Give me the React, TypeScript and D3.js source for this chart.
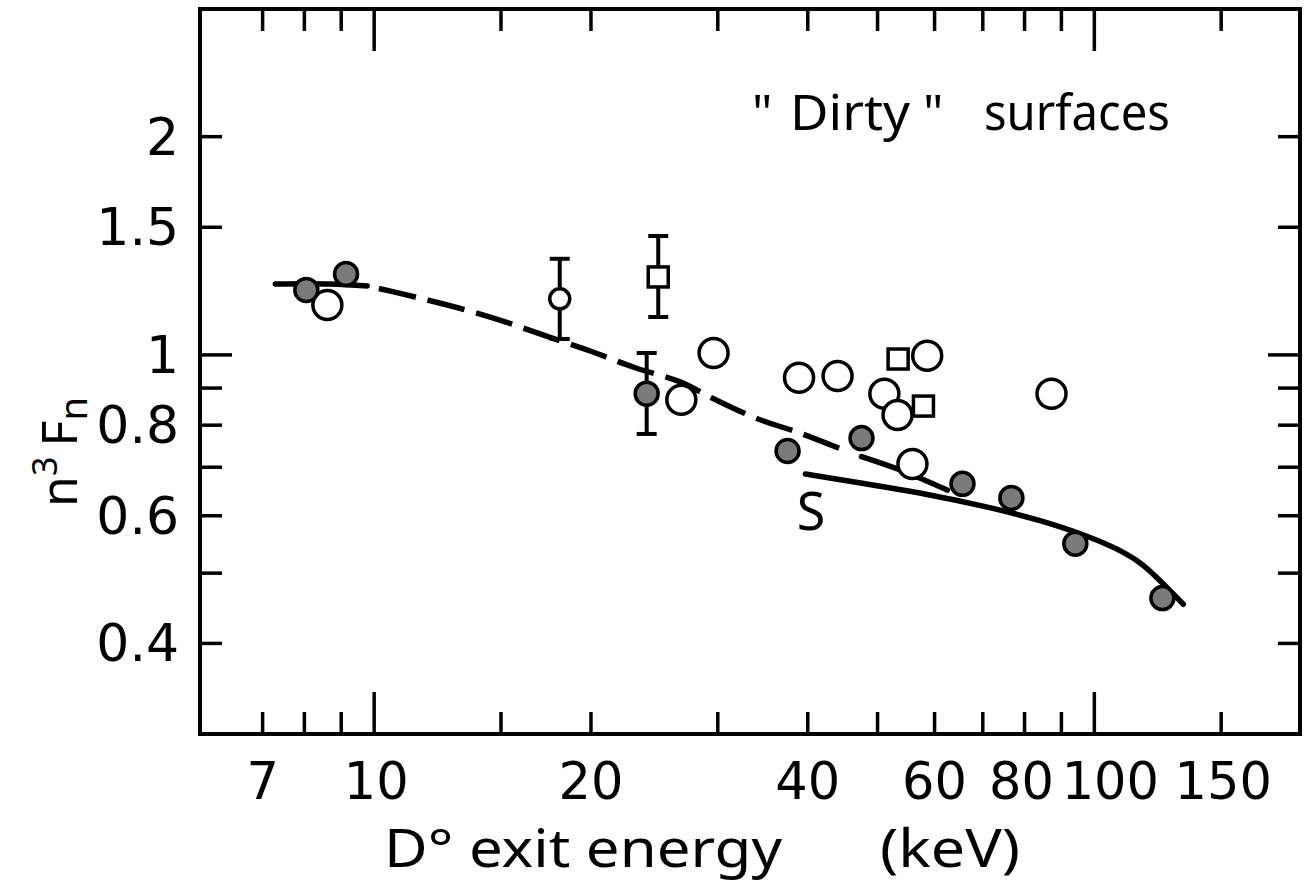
import React from 'react';
import * as d3 from 'd3';

const W = 1308;
const H = 882;

// axis domains (log-log)
const xDomain = [5.73, 193];
const yDomain = [0.3, 3.0];

const xTicks = [7, 8, 9, 10, 15, 20, 30, 40, 50, 60, 70, 80, 90, 100, 150];
const xMajorTicks = [10, 100];
const xTickLabels = [7, 10, 20, 40, 60, 80, 100, 150];
const xLabelShift = [0, 2, 0, 0, 0, -3, 16, 2];
const yTicks = [0.4, 0.5, 0.6, 0.7, 0.8, 0.9, 1, 1.5, 2];
const yMajorTicks = [1];
const yTickLabels = [0.4, 0.6, 0.8, 1, 1.5, 2];
const yTickText = ['0.4', '0.6', '0.8', '1', '1.5', '2'];

// filled circles
const filledE = [8.05, 9.14, 23.9, 37.5, 47.5, 65.6, 76.7, 94.1, 124.3];
const filledF = [1.229, 1.293, 0.884, 0.737, 0.768, 0.664, 0.635, 0.549, 0.462];
// open circles
const openE = [8.61, 26.7, 29.6, 38.9, 44.0, 51.1, 53.3, 58.6, 55.9, 87.2];
const openF = [1.172, 0.867, 1.006, 0.930, 0.935, 0.884, 0.826, 0.997, 0.707, 0.884];
// small open circle with error bar
const smallOpenE = [18.1];
const smallOpenF = [1.195];
// open squares
const squareE = [24.8, 53.4, 57.9];
const squareF = [1.281, 0.987, 0.850];
// error bars
const errE = [18.1, 24.8, 23.9];
const errLo = [1.052, 1.128, 0.778];
const errHi = [1.357, 1.459, 1.006];

// dashed curve
const dashE = [7.29, 8.69, 9.78, 11.4, 13.42, 15.35, 17.67, 20.08, 23.04, 26.6, 29.6, 33.8, 39.3, 45.5, 47.5, 53.3, 62.5];
const dashF = [1.253, 1.253, 1.245, 1.202, 1.153, 1.107, 1.055, 1.01, 0.96, 0.918, 0.87, 0.819, 0.778, 0.735, 0.724, 0.696, 0.651];
// solid curve "S"
const sE = [39.7, 47.3, 58.6, 72.4, 85.0, 99.7, 111.1, 116.8, 123.5, 128.5, 132.9];
const sF = [0.685, 0.666, 0.643, 0.615, 0.59, 0.559, 0.532, 0.514, 0.488, 0.469, 0.453];

const FONT = "'Noto Sans', 'DejaVu Sans', sans-serif";
const NUMFONT = "'DejaVu Sans', 'Noto Sans', sans-serif";
const INK = '#000';

export default function App() {
  const x = d3.scaleLog().domain(xDomain).range([200, 1300]);
  const y = d3.scaleLog().domain(yDomain).range([734, 9]);
  const [x0, x1] = x.range();
  const [y0, y1] = y.range();

  const line = d3
    .line<number[]>()
    .x((d) => x(d[0]))
    .y((d) => y(d[1]))
    .curve(d3.curveCatmullRom.alpha(0.5));
  const smooth = d3
    .line<number[]>()
    .x((d) => x(d[0]))
    .y((d) => y(d[1]))
    .curve(d3.curveBasis);

  const dashPts = dashE.map((e, i) => [e, dashF[i]]);
  const lead = dashPts.slice(0, 3);
  const mid = dashPts.slice(2, 14);
  const tail = dashPts.slice(14);
  const sPts = sE.map((e, i) => [e, sF[i]]);

  const tickLen = (major: boolean) => (major ? 42 : 22);
  const yTickLen = (major: boolean) => (major ? 32 : 22);

  return (
    <svg
      width={W}
      height={H}
      viewBox={`0 0 ${W} ${H}`}
      style={{ position: 'absolute', left: 0, top: 0, display: 'block', background: '#fff' }}
    >
      <rect x={0} y={0} width={W} height={H} fill="#fff" />

      {/* frame */}
      <rect x={x0} y={y1} width={x1 - x0} height={y0 - y1} fill="none" stroke={INK} strokeWidth={4} />

      {/* x ticks bottom and top */}
      {xTicks.map((t) => {
        const major = xMajorTicks.includes(t);
        const px = x(t);
        return (
          <g key={'xt' + t}>
            <line x1={px} x2={px} y1={y0} y2={y0 - tickLen(major)} stroke={INK} strokeWidth={3.5} />
            <line x1={px} x2={px} y1={y1} y2={y1 + tickLen(major)} stroke={INK} strokeWidth={3.5} />
          </g>
        );
      })}
      {/* y ticks left and right */}
      {yTicks.map((t) => {
        const major = yMajorTicks.includes(t);
        const py = y(t);
        return (
          <g key={'yt' + t}>
            <line x1={x0} x2={x0 + yTickLen(major)} y1={py} y2={py} stroke={INK} strokeWidth={3.5} />
            <line x1={x1} x2={x1 - yTickLen(major)} y1={py} y2={py} stroke={INK} strokeWidth={3.5} />
          </g>
        );
      })}

      {/* tick labels */}
      {xTickLabels.map((t, i) => (
        <text
          key={'xl' + t}
          x={x(t) + xLabelShift[i]}
          y={799}
          textAnchor="middle"
          fontFamily={NUMFONT}
          fontSize={51}
          fill={INK}
        >
          {t}
        </text>
      ))}
      {yTickLabels.map((t, i) => (
        <text
          key={'yl' + t}
          x={179}
          y={y(t)}
          textAnchor="end"
          dominantBaseline="central"
          fontFamily={NUMFONT}
          fontSize={52}
          fill={INK}
        >
          {yTickText[i]}
        </text>
      ))}

      {/* axis titles */}
      <text x={384} y={867} fontFamily={FONT} fontSize={53} fill={INK} textLength={398} lengthAdjust="spacingAndGlyphs">
        D° exit energy
      </text>
      <text x={880} y={867} fontFamily={FONT} fontSize={53} fill={INK} textLength={140} lengthAdjust="spacingAndGlyphs">
        (keV)
      </text>
      <text transform="translate(77,452) rotate(-90)" textAnchor="middle" fontFamily={FONT} fontSize={50} fill={INK}>
        n
        <tspan dy={-20} fontSize={34}>3</tspan>
        <tspan dy={20} dx={10}>F</tspan>
        <tspan dy={10} fontSize={38}>n</tspan>
      </text>

      {/* annotation */}
      <text x={752} y={130} fontFamily={FONT} fontSize={50} fill={INK}>"</text>
      <text x={790} y={130} fontFamily={FONT} fontSize={50} fill={INK} textLength={120} lengthAdjust="spacingAndGlyphs">
        Dirty
      </text>
      <text x={923} y={130} fontFamily={FONT} fontSize={50} fill={INK}>"</text>
      <text x={984} y={130} fontFamily={FONT} fontSize={50} fill={INK} textLength={186} lengthAdjust="spacingAndGlyphs">
        surfaces
      </text>
      <text x={811} y={530} textAnchor="middle" fontFamily={FONT} fontSize={52} fill={INK}>
        S
      </text>

      {/* curves */}
      <path d={line(lead) || ''} fill="none" stroke={INK} strokeWidth={5.5} strokeLinecap="round" />
      <path
        d={line(mid) || ''}
        fill="none"
        stroke={INK}
        strokeWidth={5.5}
        strokeDasharray="38 12"
        strokeDashoffset={38}
      />
      <path d={line(tail) || ''} fill="none" stroke={INK} strokeWidth={5.5} strokeLinecap="round" />
      <path d={smooth(sPts) || ''} fill="none" stroke={INK} strokeWidth={5.5} strokeLinecap="round" />

      {/* error bars */}
      {errE.map((e, i) => (
        <g key={'eb' + i}>
          <line x1={x(e)} x2={x(e)} y1={y(errLo[i])} y2={y(errHi[i])} stroke={INK} strokeWidth={4} />
          <line x1={x(e) - 10} x2={x(e) + 10} y1={y(errLo[i])} y2={y(errLo[i])} stroke={INK} strokeWidth={4} />
          <line x1={x(e) - 10} x2={x(e) + 10} y1={y(errHi[i])} y2={y(errHi[i])} stroke={INK} strokeWidth={4} />
        </g>
      ))}

      {/* open squares */}
      {squareE.map((e, i) => (
        <rect
          key={'sq' + i}
          x={x(e) - 10}
          y={y(squareF[i]) - 10}
          width={20}
          height={20}
          fill="#fff"
          stroke={INK}
          strokeWidth={3.5}
        />
      ))}
      {/* open circles */}
      {openE.map((e, i) => (
        <circle key={'oc' + i} cx={x(e)} cy={y(openF[i])} r={14.5} fill="#fff" stroke={INK} strokeWidth={3.5} />
      ))}
      {smallOpenE.map((e, i) => (
        <circle key={'so' + i} cx={x(e)} cy={y(smallOpenF[i])} r={10} fill="#fff" stroke={INK} strokeWidth={3.5} />
      ))}
      {/* filled circles */}
      {filledE.map((e, i) => (
        <circle key={'fc' + i} cx={x(e)} cy={y(filledF[i])} r={11.5} fill="#7a7a7a" stroke={INK} strokeWidth={3.5} />
      ))}
    </svg>
  );
}
